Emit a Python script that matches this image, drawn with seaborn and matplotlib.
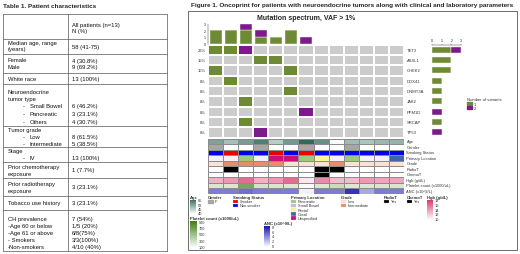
import numpy as np
import matplotlib
matplotlib.use('Agg')
import matplotlib.pyplot as plt
from matplotlib.colors import ListedColormap, LinearSegmentedColormap
from matplotlib.patches import Rectangle
import seaborn as sns

sns.set_style("white")
plt.rcParams["font.family"] = ["Liberation Sans", "DejaVu Sans"]

# ---------------- data ----------------
genes = ["TET2", "ASXL1", "CHEK2", "DDX41", "DNMT3A", "JAK2", "PPM1D", "SRCAP", "TP53"]
gene_pct = ["23%", "15%", "15%", "8%", "8%", "8%", "8%", "8%", "8%"]
# number of variants per patient (0 = none, 1 = one variant, 2 = two variants)
tet2 = [1, 1, 2, 0, 0, 0, 0, 0, 0, 0, 0, 0, 0]
asxl1 = [0, 0, 0, 1, 1, 0, 0, 0, 0, 0, 0, 0, 0]
chek2 = [1, 0, 0, 0, 0, 1, 0, 0, 0, 0, 0, 0, 0]
ddx41 = [0, 1, 0, 0, 0, 0, 0, 0, 0, 0, 0, 0, 0]
dnmt3a = [0, 0, 0, 0, 0, 1, 0, 0, 0, 0, 0, 0, 0]
jak2 = [0, 0, 1, 0, 0, 0, 0, 0, 0, 0, 0, 0, 0]
ppm1d = [0, 0, 0, 0, 0, 0, 2, 0, 0, 0, 0, 0, 0]
srcap = [0, 0, 1, 0, 0, 0, 0, 0, 0, 0, 0, 0, 0]
tp53 = [0, 0, 0, 2, 0, 0, 0, 0, 0, 0, 0, 0, 0]

age = [62, 55, 63, 70, 52, 64, 75, 66, 41, 56, 54, 57, 58]
gender = ["F", "M", "M", "F", "M", "M", "F", "M", "M", "F", "M", "M", "M"]
smoking = ["Non-smoker", "Smoker", "Non-smoker", "Non-smoker", "Smoker", "Non-smoker", "Smoker",
           "Non-smoker", "Non-smoker", "Non-smoker", "Non-smoker", "Non-smoker", "Non-smoker"]
primary = ["Small Bowel", "Small Bowel", "Pancreatic", "Small Bowel", "Unspecified", "Unspecified",
           "Pancreatic", "Rectal", "Small Bowel", "Pancreatic", "Small Bowel", "Small Bowel", "Cecal"]
grade = ["Low", "Intermediate", "Intermediate", "Intermediate", "Intermediate", "Low", "Low",
         "Low", "Intermediate", "Low", "Low", "Low", "Low"]
radiot = ["No", "Yes", "No", "No", "No", "No", "No", "Yes", "Yes", "No", "No", "No", "No"]
chemot = ["No", "No", "No", "No", "No", "No", "No", "Yes", "No", "No", "No", "No", "No"]
hgb = [12.5, 13.5, 15.5, 12.5, 13.5, 15.5, 10.0, 14.0, 12.0, 12.0, 13.5, 13.0, 13.0]
platelet = [250, 250, 650, 280, 260, 250, 120, 250, 320, 250, 250, 260, 260]
anc = [4.5, 4.5, 5.0, 4.5, 4.5, 4.5, 0.5, 4.5, 4.5, 7.0, 3.0, 4.5, 4.5]

GREEN, PURPLE, GREY = "#6f8a35", "#7d1a8c", "#cccccc"

W, H = 520, 255
fig = plt.figure(figsize=(5.2, 2.55), dpi=100)
bg = fig.add_axes([0, 0, 1, 1])
bg.set_xlim(0, W)
bg.set_ylim(H, 0)
bg.axis("off")


def box(x0, y0, x1, y1):
    return fig.add_axes([x0 / W, 1 - y1 / H, (x1 - x0) / W, (y1 - y0) / H])


# ---------------- table ----------------
fs = 4.2
bg.text(3, 6, "Table 1. Patient characteristics", fontsize=4.6, fontweight="bold", va="center")
for y in [15, 40, 55, 74, 85, 127, 148, 163, 179, 197, 211, 252]:
    bg.plot([3, 167], [y, y], color="#555555", lw=0.5)
for x in [3, 68, 167]:
    bg.plot([x, x], [15, 252], color="#555555", lw=0.5)

cells = [
    (72, 25, "All patients (n=13)"), (72, 32, "N (%)"),
    (8, 44, "Median age, range"), (8, 50, "(years)"), (72, 47, "58 (41-75)"),
    (8, 61, "Female"), (8, 68, "Male"), (72, 61, "4 (30.8%)"), (72, 68, "9 (69.2%)"),
    (8, 80, "White race"), (72, 80, "13 (100%)"),
    (8, 93, "Neuroendocrine"), (8, 100, "tumor type"),
    (23, 107, "-"), (30, 107, "Small Bowel"), (72, 107, "6 (46.2%)"),
    (23, 115, "-"), (30, 115, "Pancreatic"), (72, 115, "3 (23.1%)"),
    (23, 123, "-"), (30, 123, "Others"), (72, 123, "4 (30.7%)"),
    (8, 131, "Tumor grade"),
    (23, 138, "-"), (30, 138, "Low"), (72, 138, "8 (61.5%)"),
    (23, 145, "-"), (30, 145, "Intermediate"), (72, 145, "5 (38.5%)"),
    (8, 152, "Stage"), (23, 159, "-"), (30, 159, "IV"), (72, 159, "13 (100%)"),
    (8, 168, "Prior chemotherapy"), (8, 175, "exposure"), (72, 171, "1 (7.7%)"),
    (8, 185, "Prior radiotherapy"), (8, 192, "exposure"), (72, 188, "3 (23.1%)"),
    (8, 204, "Tobacco use history"), (72, 204, "3 (23.1%)"),
    (8, 220, "CH prevalence"), (72, 220, "7 (54%)"),
    (8, 227, "-Age 60 or below"), (72, 227, "1/5 (20%)"),
    (8, 234, "-Age 61 or above"), (72, 234, "6/8(75%)"),
    (8, 241, "- Smokers"), (72, 241, "3/3(100%)"),
    (8, 248, "-Non-smokers"), (72, 248, "4/10 (40%)"),
]
for x, y, s in cells:
    bg.text(x, y, s, fontsize=fs, va="center", color="#111111")

# ---------------- figure frame ----------------
bg.text(191, 6, "Figure 1. Oncoprint for patients with neuroendocrine tumors along with clinical and laboratory parameters",
        fontsize=4.55, fontweight="bold", va="center")
bg.add_patch(Rectangle((188, 12), 329, 239, fill=False, ec="#555555", lw=0.6))
bg.text(306, 19, "Mutation spectrum, VAF > 1%", fontsize=5, fontweight="bold", ha="center", va="center")

GX0, GX1 = 208, 404
mat = np.array([tet2, asxl1, chek2, ddx41, dnmt3a, jak2, ppm1d, srcap, tp53])
n_pat = mat.shape[1]

# top bar chart
axt = box(GX0, 24.5, GX1, 44.5)
one = (mat == 1).sum(axis=0)
two = (mat == 2).sum(axis=0)
xs = np.arange(n_pat) + 0.5
axt.bar(xs, one, width=0.8, color=GREEN, ec="white", lw=0.3)
axt.bar(xs, two, bottom=one, width=0.8, color=PURPLE, ec="white", lw=0.3)
axt.set_xlim(0, n_pat)
axt.set_ylim(0, 3)
axt.set_yticks([0, 1, 2, 3])
axt.tick_params(axis="y", labelsize=2.6, length=1, width=0.3, pad=0.5)
axt.set_xticks([])
for s in ["top", "right", "bottom"]:
    axt.spines[s].set_visible(False)
axt.spines["left"].set_linewidth(0.3)

# oncoprint grid
axg = box(GX0, 45.5, GX1, 138.5)
sns.heatmap(mat, ax=axg, cmap=ListedColormap([GREY, GREEN, PURPLE]), vmin=-0.5, vmax=2.5,
            cbar=False, linewidths=1.3, linecolor="white", xticklabels=False, yticklabels=False)
row_h = (138.5 - 45.5) / len(genes)
for i, (g, p) in enumerate(zip(genes, gene_pct)):
    yc = 45.5 + row_h * (i + 0.5)
    bg.text(GX0 - 2, yc, p, fontsize=3, ha="right", va="center", color="#333333")
    bg.text(GX1 + 2.5, yc, g, fontsize=3, ha="left", va="center", color="#333333")

# right bar chart
axr = box(432, 45.5, 461, 138.5)
g_one = (mat == 1).sum(axis=1)
g_two = (mat == 2).sum(axis=1)
ys = np.arange(len(genes)) + 0.5
axr.barh(ys, g_one, height=0.6, color=GREEN, ec="white", lw=0.3)
axr.barh(ys, g_two, left=g_one, height=0.6, color=PURPLE, ec="white", lw=0.3)
axr.set_ylim(len(genes), 0)
axr.set_xlim(0, 3)
axr.xaxis.tick_top()
axr.set_xticks([0, 1, 2, 3])
axr.set_yticks([])
axr.tick_params(axis="x", labelsize=2.6, length=1, width=0.3, pad=0.5)
for s in ["bottom", "right", "left"]:
    axr.spines[s].set_visible(False)
axr.spines["top"].set_linewidth(0.3)

# variants legend
bg.text(467, 100.5, "Number of variants", fontsize=3, va="center", color="#333333")
for k, (c, lab) in enumerate([(GREEN, "1"), (PURPLE, "2")]):
    bg.add_patch(Rectangle((467, 103 + k * 4), 5, 3.4, color=c))
    bg.text(474, 104.8 + k * 4, lab, fontsize=2.8, va="center")

# ---------------- annotation rows ----------------
age_cmap = LinearSegmentedColormap.from_list("age", ["#ffffff", "#2f6b5c"])
hgb_cmap = LinearSegmentedColormap.from_list("hgb", ["#ffffff", "#d8336b"])
plt_cmap = LinearSegmentedColormap.from_list("plt", ["#ffffff", "#3f7f14"])
anc_cmap = LinearSegmentedColormap.from_list("anc", ["#ffffff", "#1a14b8"])
gender_col = {"F": "#a6a6a6", "M": "#ffffff"}
smoke_col = {"Smoker": "#ee0000", "Non-smoker": "#0000ee"}
prim_col = {"Pancreatic": "#98cc7c", "Small Bowel": "#f4f0fa", "Rectal": "#fbf59a",
            "Cecal": "#3f67b0", "Unspecified": "#c5137e"}
grade_col = {"Low": "#fbe3d3", "Intermediate": "#e98d66"}
yes_col = {"Yes": "#000000", "No": "#ffffff"}

annots = [
    ("Age", age, age_cmap, 40, 75),
    ("Gender", gender, gender_col, None, None),
    ("Smoking Status", smoking, smoke_col, None, None),
    ("Primary Location", primary, prim_col, None, None),
    ("Grade", grade, grade_col, None, None),
    ("RadioT", radiot, yes_col, None, None),
    ("ChemoT", chemot, yes_col, None, None),
    ("Hgb (g/dL)", hgb, hgb_cmap, 9, 18),
    ("Platelet count (x1000/uL)", platelet, plt_cmap, 100, 900),
    ("ANC (x10^9/L)", anc, anc_cmap, 0, 8),
]
ay0, ah = 139.5, 5.5
for i, (name, vals, cm, lo, hi) in enumerate(annots):
    a = box(GX0, ay0 + i * ah, GX1, ay0 + (i + 1) * ah)
    if isinstance(cm, dict):
        cats = list(cm.keys())
        codes = np.array([[cats.index(v) for v in vals]])
        sns.heatmap(codes, ax=a, cmap=ListedColormap([cm[c] for c in cats]), vmin=-0.5,
                    vmax=len(cats) - 0.5, cbar=False, linewidths=0.4, linecolor="#8c8c8c",
                    xticklabels=False, yticklabels=False)
    else:
        sns.heatmap(np.array([vals]), ax=a, cmap=cm, vmin=lo, vmax=hi, cbar=False,
                    linewidths=0.4, linecolor="#8c8c8c", xticklabels=False, yticklabels=False)
    bg.text(GX1 + 2.5, ay0 + (i + 0.5) * ah, name, fontsize=2.9, va="center", color="#333333")

# ---------------- bottom legends ----------------
lfs = 2.8


def title(x, y, s):
    bg.text(x, y, s, fontsize=3, fontweight="bold", va="center", color="#333333")


def items(x, y, mapping, labels):
    for k, lab in enumerate(labels):
        bg.add_patch(Rectangle((x, y + k * 4.2), 5, 3.4, color=mapping[lab], ec="#cccccc", lw=0.2))
        bg.text(x + 7, y + 1.7 + k * 4.2, lab, fontsize=lfs, va="center", color="#333333")


def gradient(x0, y0, x1, y1, cm, ticks):
    a = box(x0, y0, x1, y1)
    a.imshow(np.linspace(1, 0, 50)[:, None], aspect="auto", cmap=cm)
    a.axis("off")
    for k, t in enumerate(ticks):
        yy = y0 + 1 + k * (y1 - y0 - 2) / (len(ticks) - 1)
        bg.text(x1 + 1.5, yy, t, fontsize=lfs, va="center", color="#333333")


title(190, 198, "Age")
gradient(190, 200.5, 196, 215, age_cmap, ["65", "58", "45", "40"])
title(208, 198, "Gender")
bg.add_patch(Rectangle((208, 200.5), 5, 3.4, color=gender_col["F"]))
bg.text(215, 202.2, "F", fontsize=lfs, va="center", color="#333333")
title(233, 198, "Smoking Status")
items(233, 200.5, smoke_col, ["Smoker", "Non-smoker"])
title(291, 198, "Primary Location")
items(291, 200.5, {**prim_col, "Small Bowel": "#c7b9e0"},
      ["Pancreatic", "Small Bowel", "Rectal", "Cecal", "Unspecified"])
title(341, 198, "Grade")
items(341, 200.5, grade_col, ["Low", "Intermediate"])
title(384, 198, "RadioT")
items(384, 200.5, yes_col, ["Yes"])
title(407, 198, "ChemoT")
items(407, 200.5, yes_col, ["Yes"])
title(427, 198, "Hgb (g/dL)")
gradient(427, 200.5, 433, 221, hgb_cmap, ["18", "16", "14", "12", "10"])
title(190, 219, "Platelet count (x1000/uL)")
gradient(190, 222, 197, 249, plt_cmap, ["900", "700", "500", "300", "100"])
title(264, 224, "ANC (x10^9/L)")
gradient(264, 227, 270, 248, anc_cmap, ["8", "6", "4", "2", "0"])

fig.savefig("out.png", dpi=100)
